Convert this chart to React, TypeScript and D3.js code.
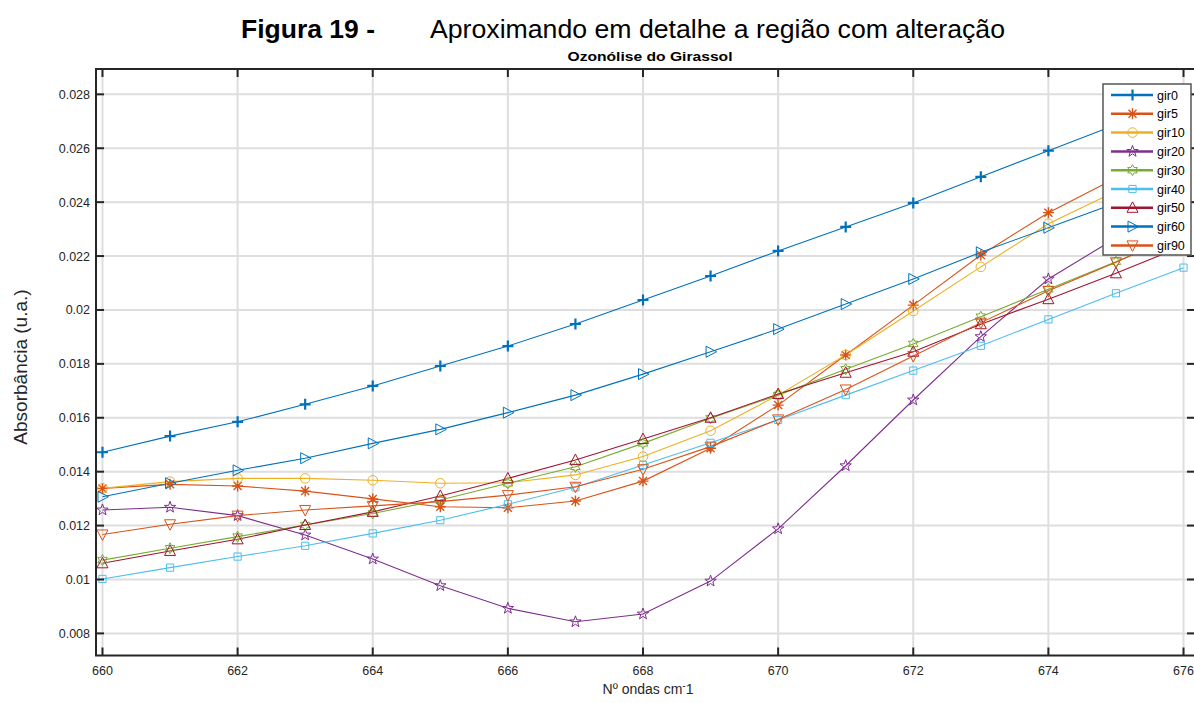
import React from 'react';
import * as d3 from 'd3';

const waveNumbers = [660, 661, 662, 663, 664, 665, 666, 667, 668, 669, 670, 671, 672, 673, 674, 675, 676];

const gir0 = [0.01472, 0.01532, 0.01585, 0.0165, 0.01718, 0.01792, 0.01866, 0.01948, 0.02037, 0.02126, 0.02219, 0.02308, 0.02397, 0.02494, 0.02591, 0.02687, 0.02784];
const gir5 = [0.01338, 0.01353, 0.01347, 0.01328, 0.01299, 0.0127, 0.01266, 0.01291, 0.01365, 0.01487, 0.01647, 0.01833, 0.02018, 0.02204, 0.02361, 0.0249, 0.0261];
const gir10 = [0.01338, 0.01363, 0.01375, 0.01375, 0.01368, 0.01357, 0.01359, 0.01388, 0.01456, 0.01552, 0.01684, 0.01833, 0.01996, 0.0216, 0.0232, 0.0244, 0.02557];
const gir20 = [0.01258, 0.01268, 0.01237, 0.01165, 0.01076, 0.00977, 0.00893, 0.00843, 0.00872, 0.00994, 0.01188, 0.01422, 0.01666, 0.01901, 0.02115, 0.02267, 0.02415];
const gir30 = [0.01072, 0.01116, 0.01159, 0.01202, 0.01245, 0.01295, 0.01357, 0.01418, 0.01505, 0.01598, 0.01684, 0.0178, 0.01874, 0.01975, 0.02077, 0.02179, 0.02282];
const gir40 = [0.01002, 0.01044, 0.01085, 0.01125, 0.01171, 0.0122, 0.01279, 0.01342, 0.01425, 0.01507, 0.01592, 0.01684, 0.01775, 0.01867, 0.01965, 0.02062, 0.02157];
const gir50 = [0.0106, 0.01106, 0.01149, 0.01202, 0.01251, 0.0131, 0.01375, 0.01443, 0.01521, 0.016, 0.01688, 0.01767, 0.01845, 0.01947, 0.0204, 0.02136, 0.02238];
const gir60 = [0.01307, 0.01357, 0.01405, 0.0145, 0.01505, 0.01557, 0.01619, 0.01684, 0.01762, 0.01845, 0.01929, 0.02022, 0.02115, 0.02214, 0.02305, 0.02397, 0.0249];
const gir90 = [0.01167, 0.01205, 0.01237, 0.01258, 0.01273, 0.01289, 0.01313, 0.01344, 0.01409, 0.01493, 0.01594, 0.01705, 0.01829, 0.01953, 0.02071, 0.02177, 0.0229];

const seriesNames = ['gir0', 'gir5', 'gir10', 'gir20', 'gir30', 'gir40', 'gir50', 'gir60', 'gir90'];
const seriesValues = [gir0, gir5, gir10, gir20, gir30, gir40, gir50, gir60, gir90];
const seriesColors = ['#0072BD', '#D95319', '#EDB120', '#7E2F8E', '#77AC30', '#4DBEEE', '#A2142F', '#0072BD', '#D95319'];
const seriesMarkers = ['plus', 'asterisk', 'circle', 'pentagram', 'hexagram', 'square', 'up', 'right', 'down'];

const xTicks = [660, 662, 664, 666, 668, 670, 672, 674, 676];
const yTicks = [0.008, 0.01, 0.012, 0.014, 0.016, 0.018, 0.02, 0.022, 0.024, 0.026, 0.028];

const W = 1194;
const H = 703;
const left = 96;
const right = 1195;
const top = 69;
const bottom = 655.5;

const starPath = (n: number, r: number, ri: number) => {
  const pts: [number, number][] = [];
  for (let i = 0; i < n * 2; i++) {
    const a = -Math.PI / 2 + (i * Math.PI) / n;
    const rr = i % 2 === 0 ? r : ri;
    pts.push([rr * Math.cos(a), rr * Math.sin(a)]);
  }
  return 'M' + pts.map(p => p[0].toFixed(2) + ',' + p[1].toFixed(2)).join('L') + 'Z';
};

// marker outline centred on 0,0
const markerPath = (kind: string) => {
  switch (kind) {
    case 'plus':
      return 'M-5.5,0H5.5M0,-5.5V5.5';
    case 'asterisk':
      return 'M-5.5,0H5.5M0,-5.5V5.5M-4,-4L4,4M-4,4L4,-4';
    case 'pentagram':
      return starPath(5, 6, 2.4);
    case 'hexagram':
      return starPath(6, 5.5, 3.1);
    case 'square':
      return 'M-3.6,-3.6H3.6V3.6H-3.6Z';
    case 'up':
      return 'M0,-6L5.5,4.5L-5.5,4.5Z';
    case 'down':
      return 'M0,6L5.5,-4.5L-5.5,-4.5Z';
    case 'right':
      return 'M6,0L-4.5,5.5L-4.5,-5.5Z';
    default:
      return '';
  }
};

const Marker = ({ kind, x, y, color }: { kind: string; x: number; y: number; color: string }) => {
  if (kind === 'circle') {
    return <circle cx={x} cy={y} r={4.8} fill="none" stroke={color} strokeWidth={1} />;
  }
  return (
    <path
      d={markerPath(kind)}
      transform={`translate(${x},${y})`}
      fill="none"
      stroke={color}
      strokeWidth={kind === 'plus' ? 2.2 : kind === 'asterisk' ? 1.4 : 1}
      strokeLinejoin="miter"
    />
  );
};

export default function App() {
  const x = d3.scaleLinear().domain([659.904, 676.17]).range([left, right]);
  const y = d3.scaleLinear().domain([0.00718, 0.02894]).range([bottom, top]);

  const line = d3
    .line<number>()
    .x((_, i) => x(waveNumbers[i]))
    .y(d => y(d));

  const font = "'Liberation Sans', Arial, sans-serif";
  const tickColor = '#262626';

  return (
    <svg width={W} height={H} style={{ position: 'absolute', left: 0, top: 0, background: '#fff' }} fontFamily={font}>
      <defs>
        <clipPath id="plotClip">
          <rect x={left} y={top} width={right - left} height={bottom - top} />
        </clipPath>
      </defs>

      {/* title */}
      <text x={241} y={38} fontSize={25} fontWeight="bold" fill="#000" textLength={134} lengthAdjust="spacingAndGlyphs">
        Figura 19 -
      </text>
      <text x={430} y={38} fontSize={25} fill="#000" textLength={575} lengthAdjust="spacingAndGlyphs">
        Aproximando em detalhe a região com alteração
      </text>
      <text x={650} y={61} fontSize={13} fontWeight="bold" fill="#000" textAnchor="middle" textLength={165} lengthAdjust="spacingAndGlyphs">
        Ozonólise do Girassol
      </text>

      {/* grid */}
      <g stroke="#dedede" strokeWidth={2}>
        {xTicks.map(t => (
          <line key={'gx' + t} x1={x(t)} x2={x(t)} y1={top} y2={bottom} />
        ))}
        {yTicks.map(t => (
          <line key={'gy' + t} x1={left} x2={right} y1={y(t)} y2={y(t)} />
        ))}
      </g>

      {/* series */}
      <g clipPath="url(#plotClip)">
        {seriesValues.map((vals, s) => (
          <path key={'l' + s} d={line(vals) || ''} fill="none" stroke={seriesColors[s]} strokeWidth={1.1} />
        ))}
      </g>
      <g>
        {seriesValues.map((vals, s) =>
          vals.map((v, i) => (
            <Marker key={'m' + s + '-' + i} kind={seriesMarkers[s]} x={x(waveNumbers[i])} y={y(v)} color={seriesColors[s]} />
          ))
        )}
      </g>

      {/* axes box and ticks */}
      <g stroke={tickColor} strokeWidth={2} fill="none">
        <rect x={left} y={top} width={right - left} height={bottom - top} />
        {xTicks.map(t => (
          <g key={'tx' + t}>
            <line x1={x(t)} x2={x(t)} y1={bottom} y2={bottom - 8} />
            <line x1={x(t)} x2={x(t)} y1={top} y2={top + 8} />
          </g>
        ))}
        {yTicks.map(t => (
          <g key={'ty' + t}>
            <line x1={left} x2={left + 8} y1={y(t)} y2={y(t)} />
            <line x1={right} x2={right - 8} y1={y(t)} y2={y(t)} />
          </g>
        ))}
      </g>
      <g fontSize={12.5} fill={tickColor}>
        {xTicks.map(t => (
          <text key={'lx' + t} x={x(t)} y={bottom + 19} textAnchor="middle">
            {t}
          </text>
        ))}
        {yTicks.map(t => (
          <text key={'ly' + t} x={left - 6} y={y(t) + 4.5} textAnchor="end">
            {String(+t.toFixed(3))}
          </text>
        ))}
      </g>

      {/* axis labels */}
      <text x={648} y={694} fontSize={14} fill={tickColor} textAnchor="middle">
        Nº ondas cm<tspan dy={-5} fontSize={10}>-</tspan><tspan dy={5}>1</tspan>
      </text>
      <text transform="translate(27,367) rotate(-90)" fontSize={19} fill={tickColor} textAnchor="middle">
        Absorbância (u.a.)
      </text>

      {/* legend */}
      <g>
        <rect x={1103} y={84} width={88} height={171} fill="#fff" stroke="#555" strokeWidth={1.5} />
        {seriesNames.map((name, s) => {
          const ly = 95 + s * 18.8;
          return (
            <g key={'lg' + s}>
              <line x1={1111} x2={1153} y1={ly} y2={ly} stroke={seriesColors[s]} strokeWidth={2.5} />
              <Marker kind={seriesMarkers[s]} x={1132.5} y={ly} color={seriesColors[s]} />
              <text x={1157} y={ly + 4.5} fontSize={12.5} fill="#000">
                {name}
              </text>
            </g>
          );
        })}
      </g>
    </svg>
  );
}
